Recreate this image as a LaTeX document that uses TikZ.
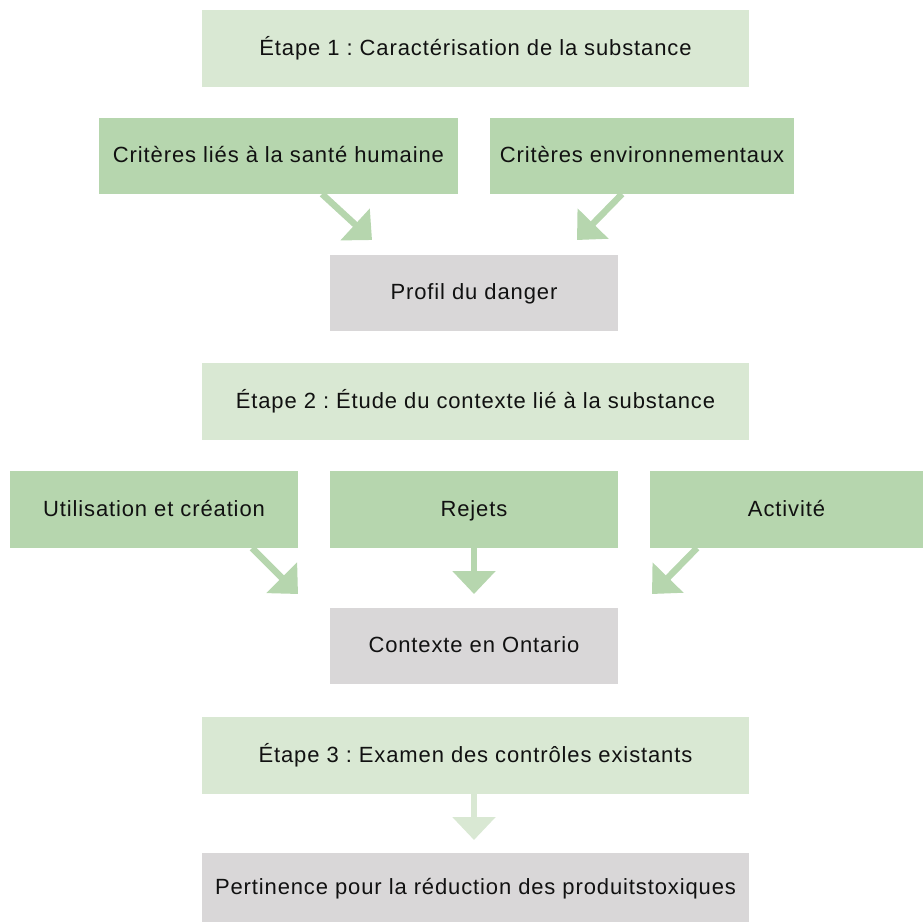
\documentclass[tikz,border=0pt]{standalone}
\usepackage{fontspec}
\setmainfont{Liberation Sans}[LetterSpace=4]
\usetikzlibrary{arrows.meta,calc}
\definecolor{stepgreen}{HTML}{D9E8D3}
\definecolor{critgreen}{HTML}{B6D6AE}
\definecolor{resgrey}{HTML}{D9D7D8}
\definecolor{txt}{HTML}{111111}
\frenchspacing
\begin{document}
\begin{tikzpicture}[x=1pt,y=-1pt,
  box/.style={anchor=north west,inner sep=0pt,outer sep=0pt,align=center,
    text=txt,font=\fontsize{22}{26}\selectfont,
    text height=17pt,text depth=4pt},
  stepbox/.style={box,fill=stepgreen},
  critbox/.style={box,fill=critgreen},
  resbox/.style={box,fill=resgrey},
  flow/.style={line width=6.5pt,draw=critgreen,
    -{Triangle[length=23pt,width=42pt]}},
  flowlight/.style={flow,draw=stepgreen}]
\useasboundingbox (0,0) rectangle (923,922);

% Stage 1
\node[stepbox,minimum width=547,minimum height=77] (e1) at (202,10)
  {Étape 1 : Caractérisation de la substance};
\node[critbox,minimum width=359,minimum height=76] (c1) at (99,118)
  {Critères liés à la santé humaine};
\node[critbox,minimum width=304,minimum height=76] (c2) at (490,118)
  {Critères environnementaux};
\node[resbox,minimum width=288,minimum height=76] (pd) at (330,255)
  {Profil du danger};

% Stage 2
\node[stepbox,minimum width=547,minimum height=77] (e2) at (202,363)
  {Étape 2 : Étude du contexte lié à la substance};
\node[critbox,minimum width=288,minimum height=77] (u) at (10,471)
  {Utilisation et création};
\node[critbox,minimum width=288,minimum height=77] (r) at (330,471)
  {Rejets};
\node[critbox,minimum width=273,minimum height=77] (a) at (650,471)
  {Activité};
\node[resbox,minimum width=288,minimum height=76] (ctx) at (330,608)
  {Contexte en Ontario};

% Stage 3
\node[stepbox,minimum width=547,minimum height=77] (e3) at (202,717)
  {Étape 3 : Examen des contrôles existants};
\node[resbox,minimum width=547,minimum height=69] (pr) at (202,853)
  {Pertinence pour la réduction des produitstoxiques};

% Connectors
\draw[flow] ($(c1.south west)+(223,0)$) -- ($(pd.north west)+(42,-15)$);
\draw[flow] ($(c2.south west)+(132,0)$) -- ($(pd.north east)+(-41,-15)$);
\draw[flow] ($(u.south west)+(242,0)$) -- ($(ctx.north west)+(-32,-14)$);
\draw[flow] ($(r.south west)+(144,0)$) -- ($(ctx.north west)+(144,-14)$);
\draw[flow] ($(a.south west)+(47,0)$) -- ($(ctx.north east)+(34,-14)$);
\draw[flowlight] ($(e3.south west)+(272,0)$) -- ($(pr.north west)+(272,-13)$);
\end{tikzpicture}
\end{document}
